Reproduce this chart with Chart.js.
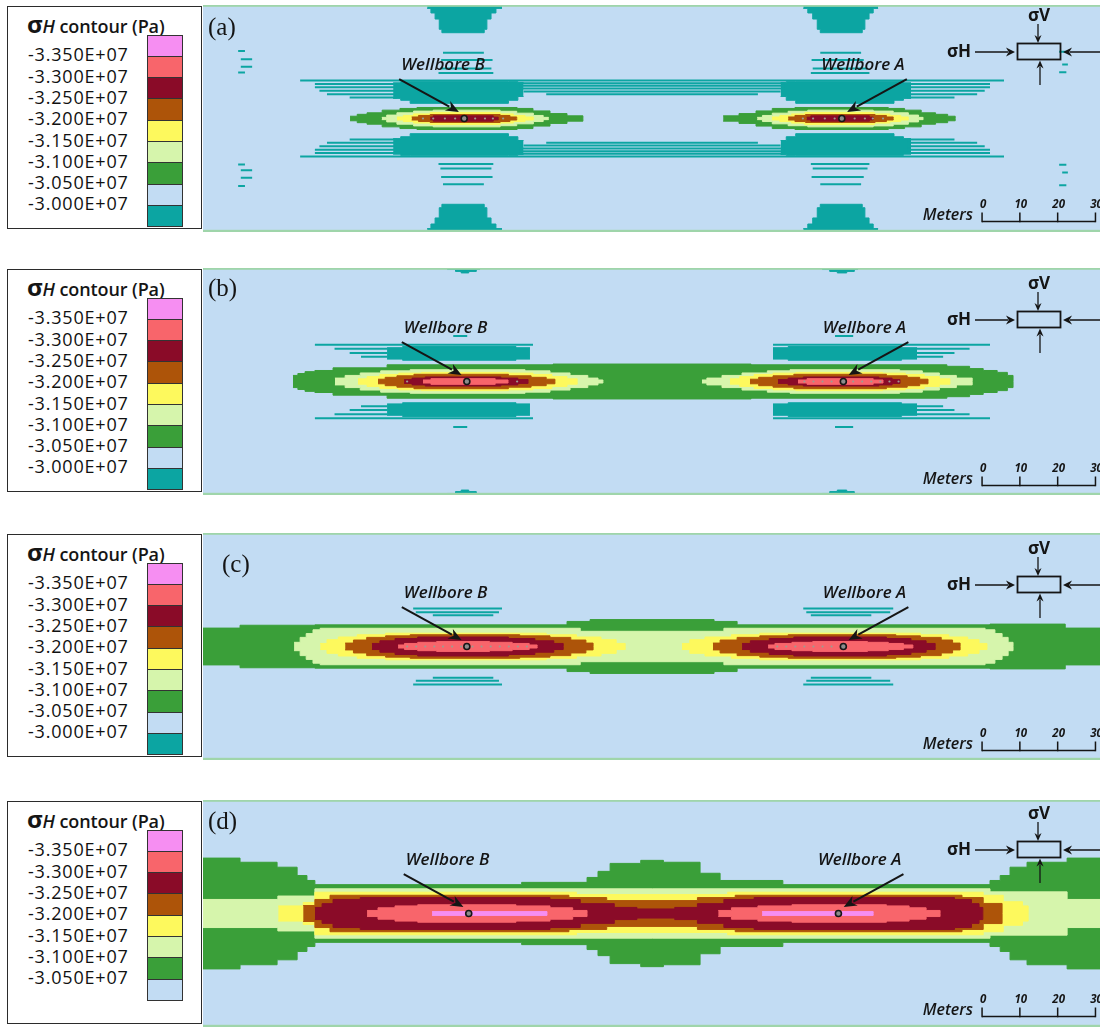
<!DOCTYPE html>
<html>
<head>
<meta charset="utf-8">
<title>σH contour around wellbores A and B</title>
<script src="https://cdn.jsdelivr.net/npm/chart.js@4.4.1/dist/chart.umd.min.js"></script>
<style>
  html, body { margin: 0; padding: 0; background: #fff; }
  body { width: 1100px; height: 1027px; position: relative; overflow: hidden;
         font-family: 'Open Sans', 'Noto Sans', 'DejaVu Sans', sans-serif; }
  .legend { position: absolute; left: 7px; width: 193px; height: 221px;
            border: 1.5px solid #2b2b2b; background: #fff; }
  .legend .title { position: absolute; left: 19px; top: 0px; font-size: 18px; font-weight: 600;
                   color: #151515; white-space: nowrap; letter-spacing: -0.1px; }
  .legend .title .sig { font-size: 24px; font-weight: 700; }
  .legend .title .sub { font-style: italic; }
  .legend .lab { position: absolute; left: 20px; font-size: 18px; font-weight: 500; color: #111;
                 line-height: 20px; height: 20px; margin-top: -10px; letter-spacing: 0.8px; white-space: nowrap; }
  .legend .sw { position: absolute; left: 139px; width: 36px; border: 1.2px solid #333; box-sizing: border-box; }
  canvas.map { position: absolute; left: 203px; }
</style>
</head>
<body>
<script>
// ---- contour levels (Pa) and fill colours ----
const LEVEL_LABELS = ['-3.350E+07', '-3.300E+07', '-3.250E+07', '-3.200E+07',
                      '-3.150E+07', '-3.100E+07', '-3.050E+07', '-3.000E+07'];
const LEVEL_COLORS = ['#f68ef2', '#f8656b', '#8a0b28', '#ad5409', '#fdf95d',
                      '#d6f5ac', '#3a9f39', '#c2dcf3', '#0ca5a2'];
const NODE_COLOR = '#9c9c92';
const WELL_NAMES = ['Wellbore B', 'Wellbore A'];
const PANEL_LETTERS = ['(a)', '(b)', '(c)', '(d)'];
const SCALE_TICKS = [0, 10, 20, 30];

// Contour outlines in metres. Lobes: [x, half-height] steps about the well axis.
// Bands: [x, lower y, upper y] steps above the axis, repeated below it.
// Stripes: [x start, x end, y] thin streaks, repeated below the axis.
// Nodes: x positions of mesh nodes marked along the well axis.

// ---- (a) ----
const pa_wells = [-49.7, 50.2];
const pa_nodes = [-60.6, -57.9, -54.8, -52.1, -46.8, -44.2, -42.1, -39.4,
                  39.9, 42.6, 45.7, 48.3, 53.6, 56.3, 58.4, 61.1];
const pa_green = [
  [[-79.9,0.6],[-78.0,1.1],[-75.4,1.5],[-71.4,2.2],[-66.7,2.65],[-62.2,2.9],[-35.7,2.65],[-31.5,2.0],[-27.0,1.3],[-22.5,0.7],[-18.3,0]],
  [[18.8,0.7],[23.0,1.3],[27.5,2.0],[31.8,2.65],[37.8,2.9],[62.5,2.65],[66.8,2.2],[71.2,1.5],[75.0,1.1],[78.2,0.6],[80.2,0]]
];
const pa_lightgreen = [
  [[-71.5,0.3],[-70.2,0.9],[-67.5,1.5],[-63.1,1.95],[-57.9,2.2],[-40.2,1.9],[-35.8,1.4],[-31.4,0.8],[-28.8,0.3],[-27.4,0]],
  [[27.8,0.3],[29.2,0.8],[31.8,1.4],[36.0,1.9],[41.2,2.2],[58.5,1.95],[63.8,1.5],[67.8,0.9],[70.5,0.3],[71.7,0]]
];
const pa_yellow = [
  [[-67.5,0.4],[-65.8,0.8],[-63.1,1.2],[-58.7,1.6],[-40.2,1.2],[-36.7,0.8],[-33.6,0.4],[-31.4,0]],
  [[31.7,0.4],[33.8,0.8],[36.9,1.2],[40.4,1.6],[58.8,1.2],[62.9,0.8],[65.8,0.4],[67.8,0]]
];
const pa_orange = [
  [[-63.6,0.4],[-61.8,0.8],[-58.7,1.05],[-40.2,0.8],[-37.6,0.4],[-35.8,0]],
  [[36.0,0.4],[37.8,0.8],[40.6,1.05],[59.0,0.8],[62.0,0.4],[63.8,0]]
];
const pa_darkred = [
  [[-58.7,0.35],[-57.9,0.7],[-42.0,0.35],[-40.7,0]],
  [[40.9,0.35],[42.0,0.7],[57.5,0.35],[58.5,0]]
];
const pa_teal_blocks = [
  [[-68.5,5.3,9.4],[-66.5,4.8,9.7],[-64.0,4.0,9.7],[-38.0,4.8,9.7],[-35.5,5.8,9.5],[-34.0,5.8,9.5]],
  [[34.0,5.8,9.5],[35.5,4.8,9.7],[38.0,4.0,9.7],[64.0,4.8,9.7],[66.5,5.3,9.4],[68.5,5.3,9.4]]
];
const pa_teal_caps = [
  [[-59.5,29.0,31],[-58.5,27.8,31],[-57.4,26.2,31],[-56.3,23.5,31],[-55.6,22.6,31],[-44.4,23.5,31],[-43.7,26.2,31],[-42.6,27.8,31],[-41.3,29.0,31],[-39.7,29.0,31]],
  [[40.0,29.0,31],[41.2,27.8,31],[42.5,26.2,31],[43.7,23.5,31],[44.5,22.6,31],[55.6,23.5,31],[56.3,26.2,31],[57.4,27.8,31],[58.5,29.0,31],[59.8,29.0,31]]
];
const pa_teal_stripes = [
  [-93.1,93.1,10.0],
  [-89.2,-67.5,9.1],[-89.2,-67.5,8.2],[-88.0,-67.5,7.3],[-86.0,-67.5,6.4],[-80.0,-67.5,5.5],
  [67.5,89.4,9.1],[67.5,89.4,8.2],[67.5,88.0,7.3],[67.5,86.0,6.4],[67.5,80.0,5.5],
  [-35.0,35.0,9.3],[-35.0,35.0,8.6],[-35.0,35.0,7.9],[-34.0,34.0,7.1],[-28.0,28.0,6.4],
  [-56.5,-42.0,12.0],[-56.0,-42.5,13.2],[-55.8,-42.2,15.4],[-55.3,-44.5,17.3],
  [42.0,57.5,12.0],[42.5,57.0,13.2],[42.2,56.0,15.4],[44.5,55.3,17.3],
  [-109.5,-107.7,17.8],[-108.8,-105.8,15.6],[-108.8,-105.8,13.6],[-109.5,-107.7,12.1],
  [107.7,109.6,12.2],[108.5,110.0,14.2],[107.7,109.6,17.6]
];

// ---- (b) ----
const pb_wells = [-49.0, 50.6];
const pb_nodes = [-64.8, -35.7, 40.3, 42.7, 45.1, 47.5, 53.2, 55.6, 58.0, 60.4, 62.8, 65.2];
const pb_green = [
  [[-95.0,1.6],[-93.7,2.1],[-91.8,2.6],[-89.2,2.9],[-84.4,3.6],[-70.1,4.4],[-26.2,4.6],[26.2,4.4],[78.0,4.0],[84.0,3.4],[87.6,2.9],[91.3,2.4],[94.0,1.6],[95.5,0]]
];
const pb_lightgreen = [
  [[-83.9,0.9],[-81.2,1.6],[-77.2,2.25],[-71.8,2.8],[-64.0,3.1],[-33.6,2.8],[-27.0,2.25],[-21.7,1.6],[-17.0,0.9],[-14.3,0.4],[-13.0,0]],
  [[13.2,0.4],[14.5,0.9],[18.5,1.6],[23.8,2.25],[30.5,2.8],[36.5,3.1],[65.5,2.8],[71.5,2.25],[76.0,1.6],[80.5,0.9],[84.7,0]]
];
const pb_yellow = [
  [[-77.8,0.7],[-75.4,1.3],[-72.0,1.85],[-67.0,2.2],[-61.0,2.4],[-38.0,2.2],[-31.5,1.85],[-26.5,1.3],[-22.5,0.7],[-19.8,0]],
  [[20.6,0.7],[23.2,1.3],[27.0,1.85],[32.0,2.2],[38.0,2.4],[61.0,2.2],[67.0,1.85],[72.0,1.3],[76.0,0.7],[78.8,0]]
];
const pb_orange = [
  [[-72.5,0.6],[-70.6,1.1],[-67.5,1.5],[-63.0,1.9],[-38.0,1.5],[-32.0,1.1],[-28.0,0.6],[-25.7,0]],
  [[25.9,0.6],[28.2,1.1],[32.0,1.5],[37.5,1.9],[62.0,1.5],[67.5,1.1],[70.8,0.6],[73.0,0]]
];
const pb_darkred = [
  [[-65.6,0.5],[-63.5,0.9],[-60.0,1.2],[-40.0,0.9],[-35.5,0.5],[-32.8,0]],
  [[33.3,0.5],[36.0,0.9],[40.0,1.2],[60.0,0.9],[63.5,0.5],[65.6,0]]
];
const pb_salmon = [
  [[-60.6,0.4],[-58.5,0.75],[-41.5,0.4],[-38.1,0]],
  [[38.6,0.4],[41.0,0.75],[58.5,0.4],[61.1,0]]
];
const pb_teal_blocks = [
  [[-70.1,5.9,8.9],[-66.0,5.6,9.2],[-36.0,5.9,8.9],[-32.3,5.9,8.9]],
  [[32.0,5.9,8.9],[36.0,5.6,9.2],[66.0,5.9,8.9],[70.1,5.9,8.9]]
];
const pb_teal_caps = [
  [[-54.2,29.5,31],[-52.0,29.0,31],[-50.5,28.6,31],[-48.5,29.0,31],[-46.5,29.5,31],[-45.5,29.5,31]],
  [[45.0,29.5,31],[47.0,29.0,31],[49.0,28.6,31],[51.5,29.0,31],[53.5,29.5,31],[54.5,29.5,31]]
];
const pb_teal_stripes = [
  [-89.2,-31.5,9.7],[-84.0,-70.0,8.6],[-80.0,-70.0,7.5],[-77.0,-70.0,6.5],[-52.6,-48.9,12.0],
  [32.0,89.4,9.7],[70.0,84.0,8.6],[70.0,80.0,7.5],[70.0,77.0,6.5],[48.4,53.2,12.0]
];

// ---- (c) ----
const pc_wells = [-49.0, 50.6];
const pc_nodes = [-64.8, -62.4, -60.0, -57.6, -55.3, -52.9, -50.5, -47.5, -45.1, -42.7, -40.3, -37.9, -35.5, -33.1,
                  33.1, 35.5, 37.9, 40.3, 42.7, 45.1, 47.5];
const pc_green = [
  [[-118.8,4.85],[-109.0,5.6],[-89.2,5.7],[-22.5,6.6],[-16.4,7.1],[16.4,6.6],[22.5,5.7],[89.4,5.9],[109.3,4.85],[118.8,4.85]]
];
const pc_lightgreen = [
  [[-94.7,1.1],[-93.1,2.4],[-91.5,3.4],[-89.7,4.4],[-87.8,4.8],[-19.0,4.0],[19.0,4.8],[88.1,4.4],[90.7,3.4],[92.6,2.4],[94.2,1.1],[95.5,0]]
];
const pc_yellow = [
  [[-87.8,0.8],[-86.0,1.8],[-83.0,2.5],[-78.0,3.1],[-70.5,3.5],[-28.0,3.1],[-20.0,2.5],[-13.5,1.8],[-9.5,0.8],[-7.1,0]],
  [[7.9,0.8],[10.0,1.8],[14.0,2.5],[21.0,3.1],[28.5,3.5],[71.0,3.1],[78.5,2.5],[83.5,1.8],[86.5,0.8],[88.6,0]]
];
const pc_orange = [
  [[-81.2,0.9],[-79.0,1.7],[-75.5,2.4],[-70.5,2.8],[-64.0,3.1],[-35.0,2.8],[-27.0,2.4],[-21.5,1.7],[-17.5,0.9],[-15.6,0]],
  [[16.1,0.9],[18.0,1.7],[22.5,2.4],[28.5,2.8],[36.0,3.1],[64.5,2.8],[71.0,2.4],[76.5,1.7],[79.5,0.9],[81.5,0]]
];
const pc_darkred = [
  [[-74.1,0.8],[-72.0,1.5],[-68.0,2.1],[-62.0,2.5],[-38.0,2.1],[-31.0,1.5],[-26.0,0.8],[-23.5,0]],
  [[23.8,0.8],[26.0,1.5],[31.0,2.1],[37.5,2.5],[62.0,2.1],[68.5,1.5],[72.5,0.8],[74.9,0]]
];
const pc_salmon = [
  [[-67.2,0.4],[-65.5,0.8],[-62.0,1.1],[-57.0,1.3],[-43.0,1.1],[-37.0,0.8],[-32.5,0.4],[-30.4,0]],
  [[30.7,0.4],[32.5,0.8],[37.0,1.1],[42.5,1.3],[57.0,1.1],[62.5,0.8],[66.5,0.4],[69.0,0]]
];
const pc_teal_stripes = [
  [-63.2,-39.7,10.0],[-62.5,-40.5,9.0],[-58.0,-42.0,8.2],
  [40.0,63.8,10.0],[40.8,63.0,9.0],[42.0,58.0,8.2]
];

// ---- (d) ----
const pd_wells = [-48.5, 49.3];
const pd_green = [
  [[-118.8,14.6],[-109.0,13.5],[-99.2,12.2],[-93.9,10.0],[-91.3,8.7],[-89.2,7.6],[-34.5,8.2],[-17.2,9.5],[-14.3,11.1],[-11.1,13.2],[-3.0,14.0],[3.0,13.5],[12.7,10.6],[18.0,8.7],[34.6,7.6],[89.4,8.7],[92.1,10.0],[94.7,12.2],[99.2,13.5],[109.8,14.6],[118.8,14.6]]
];
const pd_lightgreen = [
  [[-118.8,3.7],[-99.0,4.6],[-89.2,6.5],[89.4,5.7],[109.8,3.7],[118.8,3.7]]
];
const pd_yellow = [
  [[-98.9,2.0],[-92.3,2.9],[-89.2,5.6],[-20.0,5.0],[20.0,5.6],[87.6,4.8],[92.9,3.1],[98.0,2.0],[99.5,0]]
];
const pd_orange = [
  [[-92.3,2.1],[-89.2,3.7],[-85.2,4.8],[-22.0,4.2],[-12.0,3.4],[12.0,4.2],[22.0,4.8],[82.0,4.2],[87.6,2.65],[92.6,0]]
];
const pd_darkred = [
  [[-89.2,1.6],[-87.3,2.6],[-84.4,3.7],[-77.2,4.2],[-27.0,3.7],[-19.0,2.6],[-10.0,1.6],[-4.0,1.2],[6.0,1.6],[12.0,2.6],[19.0,3.7],[27.0,4.2],[80.0,3.7],[84.5,2.6],[86.5,1.6],[87.5,0]]
];
const pd_salmon = [
  [[-75.4,0.8],[-72.5,1.5],[-68.0,2.0],[-62.0,2.3],[-36.0,2.0],[-27.0,1.5],[-21.0,0.8],[-17.2,0]],
  [[17.5,0.8],[21.0,1.5],[28.0,2.0],[37.0,2.3],[62.0,2.0],[68.0,1.5],[72.5,0.8],[76.2,0]]
];
const pd_pink = [
  [[-58.2,0.5],[-27.8,0]],
  [[29.1,0.5],[58.5,0]]
];

// ---- layout of the four panels ----
const PANEL_TOPS = [5, 268, 533, 800];
const MAP_W = 897, MAP_H = 227;
const X_RANGE = [-118.8, 118.5];
const Y_RANGE = [-29.9, 29.9];
const SCALE_ORIGIN = 87.3;          // left end of the metre scale bar (m)

const PANELS = [
  { top: PANEL_TOPS[0], letter: PANEL_LETTERS[0], letterAt: [5, 23], wells: pa_wells, nodes: pa_nodes,
    swatches: 9, iconTop: 38, barY: 216.5,
    layers: [
      { kind: 'band', level: 8, shapes: pa_teal_caps },
      { kind: 'band', level: 8, shapes: pa_teal_blocks },
      { kind: 'stripe', level: 8, stripes: pa_teal_stripes },
      { kind: 'lobe', level: 6, shapes: pa_green },
      { kind: 'lobe', level: 5, shapes: pa_lightgreen },
      { kind: 'lobe', level: 4, shapes: pa_yellow },
      { kind: 'lobe', level: 3, shapes: pa_orange },
      { kind: 'lobe', level: 2, shapes: pa_darkred }
    ] },
  { top: PANEL_TOPS[1], letter: PANEL_LETTERS[1], letterAt: [5, 21], wells: pb_wells, nodes: pb_nodes,
    swatches: 9, iconTop: 43, barY: 217.5,
    layers: [
      { kind: 'band', level: 8, shapes: pb_teal_caps },
      { kind: 'band', level: 8, shapes: pb_teal_blocks },
      { kind: 'stripe', level: 8, stripes: pb_teal_stripes },
      { kind: 'lobe', level: 6, shapes: pb_green },
      { kind: 'lobe', level: 5, shapes: pb_lightgreen },
      { kind: 'lobe', level: 4, shapes: pb_yellow },
      { kind: 'lobe', level: 3, shapes: pb_orange },
      { kind: 'lobe', level: 2, shapes: pb_darkred },
      { kind: 'lobe', level: 1, shapes: pb_salmon }
    ] },
  { top: PANEL_TOPS[2], letter: PANEL_LETTERS[2], letterAt: [19, 32], wells: pc_wells, nodes: pc_nodes,
    swatches: 9, iconTop: 43, barY: 217.5,
    layers: [
      { kind: 'stripe', level: 8, stripes: pc_teal_stripes },
      { kind: 'lobe', level: 6, shapes: pc_green },
      { kind: 'lobe', level: 5, shapes: pc_lightgreen },
      { kind: 'lobe', level: 4, shapes: pc_yellow },
      { kind: 'lobe', level: 3, shapes: pc_orange },
      { kind: 'lobe', level: 2, shapes: pc_darkred },
      { kind: 'lobe', level: 1, shapes: pc_salmon }
    ] },
  { top: PANEL_TOPS[3], letter: PANEL_LETTERS[3], letterAt: [5, 22], wells: pd_wells, nodes: [],
    swatches: 8, iconTop: 41, barY: 216.5,
    layers: [
      { kind: 'lobe', level: 6, shapes: pd_green },
      { kind: 'lobe', level: 5, shapes: pd_lightgreen },
      { kind: 'lobe', level: 4, shapes: pd_yellow },
      { kind: 'lobe', level: 3, shapes: pd_orange },
      { kind: 'lobe', level: 2, shapes: pd_darkred },
      { kind: 'lobe', level: 1, shapes: pd_salmon },
      { kind: 'lobe', level: 0, shapes: pd_pink }
    ] }
];

// ---- legend boxes (HTML) ----
function buildLegend(top, count) {
  const box = document.createElement('div');
  box.className = 'legend';
  box.style.top = (top + 1) + 'px';
  box.innerHTML = '<div class="title"><span class="sig">σ</span><span class="sub">H</span> contour (Pa)</div>';
  const step = 21.3, first = 27.5;
  for (let i = 0; i < count; i++) {
    const sw = document.createElement('div');
    sw.className = 'sw';
    sw.style.top = (first + i * step) + 'px';
    sw.style.height = (step + 1.2) + 'px';
    sw.style.background = LEVEL_COLORS[i];
    box.appendChild(sw);
  }
  for (let i = 0; i < count - 1; i++) {
    const lab = document.createElement('div');
    lab.className = 'lab';
    lab.style.top = (first + (i + 1) * step - 1.5) + 'px';
    lab.textContent = LEVEL_LABELS[i];
    box.appendChild(lab);
  }
  document.body.appendChild(box);
}

// ---- dataset builders ----
const LINE_BASE = { showLine: true, pointRadius: 0, pointHoverRadius: 0, stepped: true,
                    tension: 0, spanGaps: false };
function pairSets(upper, lower, color) {
  return [
    Object.assign({}, LINE_BASE, { data: upper, fill: '+1', backgroundColor: color, borderColor: color, borderWidth: 1 }),
    Object.assign({}, LINE_BASE, { data: lower, fill: false, borderColor: color, borderWidth: 1 })
  ];
}
function lobeSets(profile, color) {
  return pairSets(profile.map(p => ({ x: p[0], y: p[1] })),
                  profile.map(p => ({ x: p[0], y: -p[1] })), color);
}
function bandSets(profile, color) {
  return pairSets(profile.map(p => ({ x: p[0], y: p[2] })), profile.map(p => ({ x: p[0], y: p[1] })), color)
    .concat(pairSets(profile.map(p => ({ x: p[0], y: -p[1] })), profile.map(p => ({ x: p[0], y: -p[2] })), color));
}
function stripeSet(stripes, color) {
  const pts = [];
  stripes.forEach(([x0, x1, y]) => {
    pts.push({ x: x0, y: y }, { x: x1, y: y }, { x: x1, y: null });
    pts.push({ x: x0, y: -y }, { x: x1, y: -y }, { x: x1, y: null });
  });
  return Object.assign({}, LINE_BASE, { data: pts, stepped: false, fill: false,
    borderColor: color, borderWidth: 2, borderCapStyle: 'butt' });
}
function layerSets(layer) {
  const color = LEVEL_COLORS[layer.level];
  if (layer.kind === 'stripe') return [stripeSet(layer.stripes, color)];
  const out = [];
  layer.shapes.forEach(s => out.push(...(layer.kind === 'band' ? bandSets(s, color) : lobeSets(s, color))));
  return out;
}

// ---- drawing helpers for the plugins ----
function arrow(ctx, x0, y0, x1, y1, lw, head, half) {
  const a = Math.atan2(y1 - y0, x1 - x0);
  const bx = x1 - head * Math.cos(a), by = y1 - head * Math.sin(a);
  ctx.lineWidth = lw;
  ctx.beginPath(); ctx.moveTo(x0, y0); ctx.lineTo(bx + 2 * Math.cos(a), by + 2 * Math.sin(a)); ctx.stroke();
  ctx.beginPath();
  ctx.moveTo(x1, y1);
  ctx.lineTo(bx + half * Math.sin(a), by - half * Math.cos(a));
  ctx.lineTo(bx + 0.3 * head * Math.cos(a), by + 0.3 * head * Math.sin(a));
  ctx.lineTo(bx - half * Math.sin(a), by + half * Math.cos(a));
  ctx.closePath(); ctx.fill();
}

const backdrop = {
  id: 'backdrop',
  beforeDraw(chart) {
    const { ctx, chartArea: a } = chart;
    ctx.save();
    ctx.fillStyle = LEVEL_COLORS[7];
    ctx.fillRect(a.left, a.top, a.right - a.left, a.bottom - a.top);
    ctx.restore();
  },
  afterDraw(chart) {
    const { ctx, width, height } = chart;
    ctx.save();
    ctx.fillStyle = '#9fd5aa';
    ctx.fillRect(0, 0, width, 1.8);
    ctx.fillRect(0, height - 2.2, width, 2.2);
    ctx.restore();
  }
};

const annotate = {
  id: 'annotate',
  afterDatasetsDraw(chart, args, opts) {
    const P = opts.panel;
    const { ctx } = chart;
    const xs = chart.scales.x, ys = chart.scales.y;
    const X = v => xs.getPixelForValue(v), Y = v => ys.getPixelForValue(v);
    ctx.save();
    ctx.fillStyle = '#151515';
    ctx.strokeStyle = '#151515';

    // panel letter
    ctx.font = "25px 'Liberation Serif', 'DejaVu Serif', serif";
    ctx.textAlign = 'left'; ctx.textBaseline = 'middle';
    ctx.fillText(P.letter, P.letterAt[0], P.letterAt[1]);

    // wellbore names and pointers
    ctx.font = "italic 600 17px 'Open Sans', 'Noto Sans', sans-serif";
    ctx.textAlign = 'center';
    P.wells.forEach((w, i) => {
      const s = i === 0 ? -1 : 1;
      ctx.fillText(WELL_NAMES[i], X(w + s * 5.6), Y(14.1));
      arrow(ctx, X(w + s * 17.2), Y(10.4), X(w + s * 1.4), Y(1.7), 2, 13, 5.5);
    });

    // stress state sketch
    const T = P.iconTop;
    ctx.font = "bold 17px 'Open Sans', 'Noto Sans', sans-serif";
    ctx.fillText('σV', 836, T - 27);
    ctx.fillText('σH', 756, T + 9);
    ctx.lineWidth = 1.8;
    ctx.strokeRect(814.5, T + 0.5, 43, 16);
    arrow(ctx, 835, T - 19, 835, T, 1.3, 8, 3.5);
    arrow(ctx, 837, T + 42, 837, T + 17.5, 1.3, 8, 3.5);
    arrow(ctx, 772, T + 9, 812, T + 9, 1.3, 9, 4.5);
    arrow(ctx, 900, T + 9, 860, T + 9, 1.3, 9, 4.5);

    // metre scale bar
    const yb = P.barY;
    const x0 = X(SCALE_ORIGIN), x1 = X(SCALE_ORIGIN + SCALE_TICKS[SCALE_TICKS.length - 1]);
    ctx.lineWidth = 1.5;
    ctx.beginPath(); ctx.moveTo(x0, yb); ctx.lineTo(x1, yb); ctx.stroke();
    ctx.font = "italic bold 11.5px 'Open Sans', 'Noto Sans', sans-serif";
    SCALE_TICKS.forEach(t => {
      const xt = X(SCALE_ORIGIN + t);
      ctx.beginPath(); ctx.moveTo(xt, yb + 0.75); ctx.lineTo(xt, yb - 9); ctx.stroke();
      ctx.fillText(String(t), xt + 1, yb - 17);
    });
    ctx.font = "italic 600 16px 'Open Sans', 'Noto Sans', sans-serif";
    ctx.textAlign = 'right';
    ctx.fillText('Meters', x0 - 9, yb - 6);
    ctx.restore();
  }
};

// ---- build each panel ----
PANELS.forEach(P => {
  buildLegend(P.top, P.swatches);

  const canvas = document.createElement('canvas');
  canvas.className = 'map';
  canvas.width = MAP_W; canvas.height = MAP_H;
  canvas.style.top = P.top + 'px';
  canvas.style.width = MAP_W + 'px'; canvas.style.height = MAP_H + 'px';
  document.body.appendChild(canvas);

  // outer contour levels come first in the layer list; Chart.js paints the last dataset first
  const datasets = [];
  for (let i = P.layers.length - 1; i >= 0; i--) datasets.push(...layerSets(P.layers[i]));
  datasets.unshift(
    { data: P.wells.map(x => ({ x: x, y: 0 })), showLine: false, fill: false,
      pointRadius: 3, pointBackgroundColor: '#8c8c8c', pointBorderColor: '#161616', pointBorderWidth: 1.6 },
    { data: P.nodes.map(x => ({ x: x, y: 0 })), showLine: false, fill: false,
      pointRadius: 1.1, pointBorderWidth: 0, pointBackgroundColor: NODE_COLOR }
  );

  new Chart(canvas, {
    type: 'line',
    data: { datasets },
    options: {
      responsive: false, animation: false, devicePixelRatio: 1, events: [],
      layout: { padding: 0, autoPadding: false },
      scales: {
        x: { type: 'linear', min: X_RANGE[0], max: X_RANGE[1], display: false },
        y: { type: 'linear', min: Y_RANGE[0], max: Y_RANGE[1], display: false }
      },
      plugins: { legend: { display: false }, tooltip: { enabled: false }, annotate: { panel: P } }
    },
    plugins: [backdrop, annotate]
  });
});
</script>
</body>
</html>
